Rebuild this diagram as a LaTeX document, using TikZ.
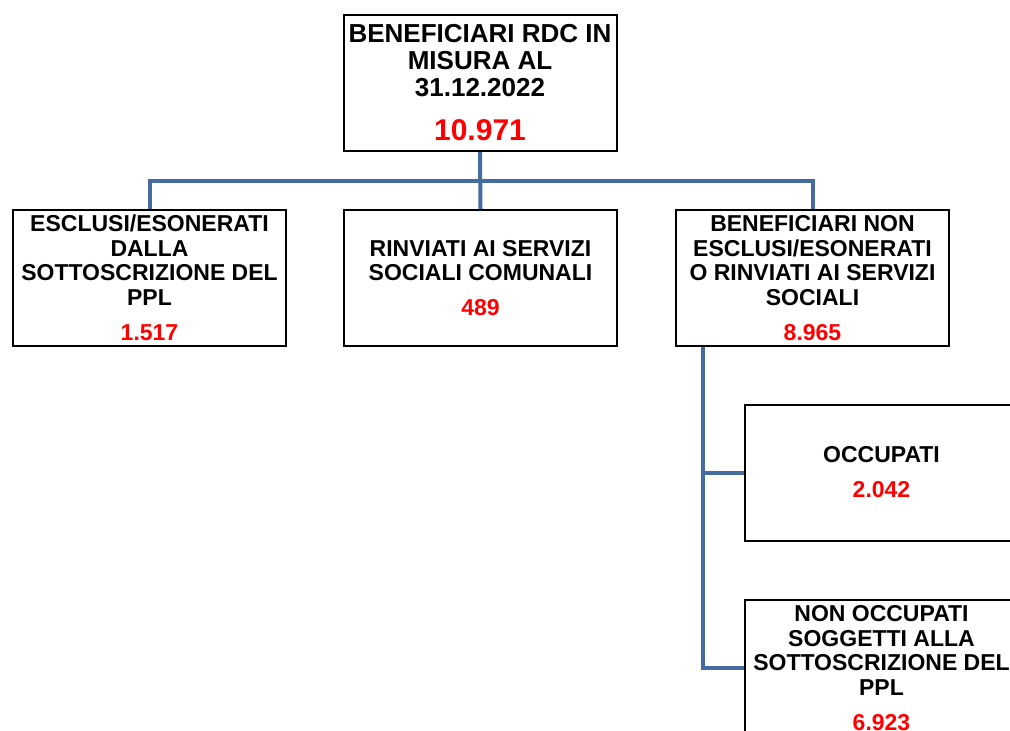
\documentclass[tikz,border=0pt]{standalone}
\usepackage{fontspec}
\setmainfont{Liberation Sans}
\definecolor{connblue}{RGB}{68,108,160}
\definecolor{numred}{RGB}{255,0,0}
\tikzset{
  orgbox/.style={draw=black, line width=2pt, fill=white, minimum width=273pt, minimum height=136pt,
    inner sep=0pt, align=center, font=\bfseries\fontsize{23}{24.5}\selectfont},
  topbox/.style={orgbox, font=\bfseries\fontsize{26}{27}\selectfont},
  conn/.style={draw=connblue, line width=4pt}
}
\newcommand{\numtxt}[1]{\textcolor{numred}{#1}}
\begin{document}
\begin{tikzpicture}[x=1pt,y=-1pt]
\clip (0,0) rectangle (1010,731);
\fill[white] (0,0) rectangle (1010,731);
\coordinate (bus) at (480.5,181);
\coordinate (trunk) at (703,347);
% connectors first
\node[topbox] (top) at (480,83) {BENEFICIARI RDC IN\\MISURA AL\\31.12.2022\\[17pt]{\fontsize{30}{30}\selectfont\numtxt{10.971}}};
\node[orgbox] (b1) at (149.5,278) {ESCLUSI/ESONERATI\\DALLA\\SOTTOSCRIZIONE DEL\\PPL\\[10.5pt]\numtxt{1.517}};
\node[orgbox] (b2) at (480.5,278) {RINVIATI AI SERVIZI\\SOCIALI COMUNALI\\[10.5pt]\numtxt{489}};
\node[orgbox] (b3) at (812.5,278) {BENEFICIARI NON\\ESCLUSI/ESONERATI\\O RINVIATI AI SERVIZI\\SOCIALI\\[10.5pt]\numtxt{8.965}};
\node[orgbox] (occ) at (881.5,472.5) {OCCUPATI\\[10.5pt]\numtxt{2.042}};
\node[orgbox] (nonocc) at (881.5,668) {NON OCCUPATI\\SOGGETTI ALLA\\SOTTOSCRIZIONE DEL\\PPL\\[10.5pt]\numtxt{6.923}};
\draw[conn] (top.south) -- (b2.north);
\draw[conn] (b1.north) |- (bus) -| (b3.north);
\draw[conn] (trunk) |- (occ.west);
\draw[conn] (trunk) |- (nonocc.west);
\end{tikzpicture}
\end{document}
